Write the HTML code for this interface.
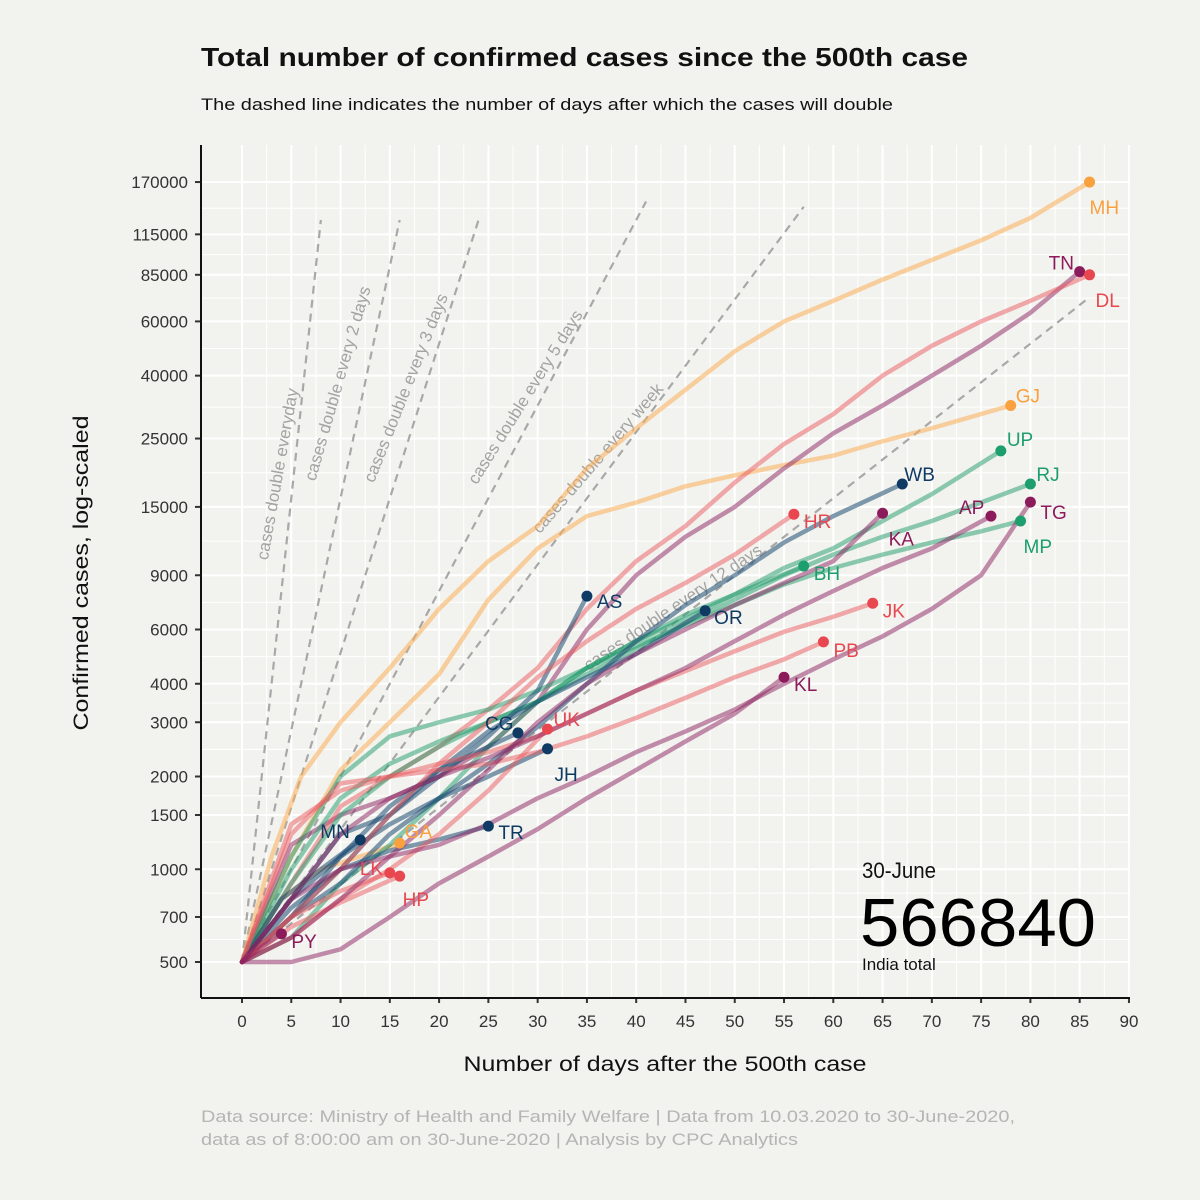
<!DOCTYPE html>
<html><head><meta charset="utf-8"><style>
html,body{margin:0;padding:0;background:#f2f2ee;}
svg{display:block;font-family:"Liberation Sans",Arial,sans-serif;}
</style></head><body>
<svg id="chart" width="1200" height="1200" viewBox="0 0 1200 1200">
<rect width="1200" height="1200" fill="#f2f2ee"/>
<text x="201" y="66" font-size="26" font-weight="bold" fill="#111" textLength="767" lengthAdjust="spacingAndGlyphs">Total number of confirmed cases since the 500th case</text>
<text x="201" y="110" font-size="17" fill="#111" textLength="692" lengthAdjust="spacingAndGlyphs">The dashed line indicates the number of days after which the cases will double</text>
<g id="grid"></g>
<g id="dbl"></g>
<g id="series"></g>
<g id="axes"></g>
<text x="88" y="573" transform="rotate(-90 88 573)" text-anchor="middle" font-size="21" fill="#111" textLength="315" lengthAdjust="spacingAndGlyphs">Confirmed cases, log-scaled</text>
<text x="665" y="1071" text-anchor="middle" font-size="21" fill="#111" textLength="403" lengthAdjust="spacingAndGlyphs">Number of days after the 500th case</text>
<text x="862" y="878" font-size="22" fill="#111" textLength="74" lengthAdjust="spacingAndGlyphs">30-June</text>
<text x="860" y="946" font-size="68" fill="#000" textLength="236" lengthAdjust="spacingAndGlyphs">566840</text>
<text x="862" y="970" font-size="17" fill="#111">India total</text>
<text x="201" y="1122" font-size="17" fill="#b5b5b5" textLength="814" lengthAdjust="spacingAndGlyphs">Data source: Ministry of Health and Family Welfare | Data from 10.03.2020 to 30-June-2020,</text>
<text x="201" y="1145" font-size="17" fill="#b5b5b5" textLength="597" lengthAdjust="spacingAndGlyphs">data as of 8:00:00 am on 30-June-2020 | Analysis by CPC Analytics</text>
</svg>
<script>
const xTicks=[0,5,10,15,20,25,30,35,40,45,50,55,60,65,70,75,80,85,90];
const yTicks=[500,700,1000,1500,2000,3000,4000,6000,9000,15000,25000,40000,60000,85000,115000,170000];
const doublingDays=[1,2,3,5,7,12];
const doublingEnd=[8,16,24,41,57,86];
const doublingLabels=["cases double everyday","cases double every 2 days","cases double every 3 days","cases double every 5 days","cases double every week","cases double every 12 days"];
const stateNames=["MH","GJ","GA","TN","DL","UP","RJ","MP","BH","WB","AS","OR","JH","CG","TR","MN","HR","JK","PB","UK","LK","HP","KA","AP","TG","KL","PY"];
const stateGroups=["o","o","o","p","r","g","g","g","g","n","n","n","n","n","n","n","r","r","r","r","r","r","p","p","p","p","p"];
const stateDays={
MH:[0,3,6,10,15,20,25,30,35,40,45,50,55,60,65,70,75,80,86],
GJ:[0,5,10,15,20,25,30,35,40,45,50,55,60,65,70,78],
GA:[0,4,8,12,16],
TN:[0,5,10,15,20,25,30,35,40,45,50,55,60,65,70,75,80,85],
DL:[0,5,10,15,20,25,30,35,40,45,50,55,60,65,70,75,80,86],
UP:[0,5,10,15,20,25,30,35,40,45,50,55,60,65,70,77],
RJ:[0,5,10,15,20,25,30,35,40,45,50,55,60,65,70,75,80],
MP:[0,5,10,15,20,25,30,35,40,45,50,55,60,65,70,75,79],
BH:[0,5,10,15,20,25,30,35,40,45,50,57],
WB:[0,5,10,15,20,25,30,35,40,45,50,55,60,67],
AS:[0,5,10,15,20,25,30,35],
OR:[0,5,10,15,20,25,30,35,40,47],
JH:[0,5,10,15,20,25,31],
CG:[0,5,10,15,20,25,28],
TR:[0,5,10,15,20,25],
MN:[0,4,8,12],
HR:[0,5,10,15,20,25,30,35,40,45,50,56],
JK:[0,5,10,15,20,25,30,35,40,45,50,55,60,64],
PB:[0,5,10,15,20,25,30,35,40,45,50,55,59],
UK:[0,5,10,15,20,25,31],
LK:[0,5,10,15],
HP:[0,5,10,16],
KA:[0,5,10,15,20,25,30,35,40,45,50,55,60,65],
AP:[0,5,10,15,20,25,30,35,40,45,50,55,60,65,70,76],
TG:[0,5,10,15,20,25,30,35,40,45,50,55,60,65,70,75,80],
KL:[0,5,10,15,20,25,30,35,40,45,50,55],
PY:[0,2,4]};
const stateCases={
MH:[500,1100,2000,3000,4500,7000,10000,13000,20000,27000,36000,48000,60000,70000,82000,95000,110000,130000,170000],
GJ:[500,1100,2100,3000,4300,7500,11000,14000,15500,17500,19000,20500,22000,24500,27000,32000],
GA:[500,800,1000,1100,1216],
TN:[500,1200,1500,1700,2000,2500,3500,6000,9000,12000,15000,20000,26000,32000,40000,50000,64000,87000],
DL:[500,900,1600,2000,2500,3300,4500,7000,10000,13000,18000,24000,30000,40000,50000,60000,70000,85000],
UP:[500,900,1500,2000,2500,3000,3500,4500,5500,6500,7800,9500,11000,13500,16500,22800],
RJ:[500,1000,1700,2200,2600,3000,3500,4300,5200,6300,7500,9000,10500,12000,13500,15500,17800],
MP:[500,1100,2000,2700,3000,3300,3800,4500,5300,6200,7200,8400,9500,10500,11500,12500,13500],
BH:[500,600,900,1200,1700,2500,3500,4500,5500,6700,7800,9640],
WB:[500,700,900,1300,1700,2200,2900,4000,5500,7200,9000,11500,14000,17800],
AS:[500,800,1300,1500,2000,2700,3800,7700],
OR:[500,700,1100,1600,2100,2800,3500,4200,5000,6900],
JH:[500,800,1100,1400,1700,2000,2460],
CG:[500,700,1000,1500,2100,2500,2770],
TR:[500,750,1000,1150,1250,1380],
MN:[500,800,1000,1245],
HR:[500,700,1000,1500,2200,3000,4200,5500,7000,8500,10500,14200],
JK:[500,1400,1800,2000,2200,2400,2700,3200,3800,4400,5100,5900,6600,7300],
PB:[500,1300,1900,2000,2100,2200,2400,2700,3100,3600,4200,4800,5470],
UK:[500,600,800,1000,1300,1800,2850],
LK:[500,700,850,973],
HP:[500,650,780,950],
KA:[500,600,800,1100,1500,2100,3000,4000,5000,6000,7200,8500,10000,14300],
AP:[500,800,1300,1700,2000,2300,2700,3200,3800,4500,5500,6700,8000,9500,11000,14000],
TG:[500,800,1000,1100,1200,1400,1700,2000,2400,2800,3300,4000,4800,5700,7000,9000,15550],
KL:[500,500,550,700,900,1100,1350,1700,2100,2600,3200,4200],
PY:[500,560,617]};
const labelOff={MH:[0,26],GJ:[5,-9],GA:[5,-11],TN:[-31,-8],DL:[6,26],UP:[6,-11],RJ:[6,-9],MP:[3,26],BH:[10,8],WB:[2,-9],AS:[10,6],OR:[9,7],JH:[7,26],CG:[-33,-9],TR:[10,7],MN:[-40,-8],HR:[10,8],JK:[10,8],PB:[10,9],UK:[6,-9],LK:[-30,-4],HP:[3,24],KA:[6,26],AP:[-32,-8],TG:[10,11],KL:[10,8],PY:[10,8]};
const lineCol={o:"#fcae5a",r:"#ea5a5f",p:"#8c2160",g:"#1f9c6c",n:"#1b4a73"};
const dotCol={o:"#f9a03f",r:"#e8474f",p:"#8c1b5c",g:"#1d9e6d",n:"#0f3a63"};
const lineOp={o:0.55,r:0.5,p:0.5,g:0.5,n:0.55};
const NS="http://www.w3.org/2000/svg";
const X0=242,PXD=9.855,Y0=962,PXDEC=308.1;
function xs(d){return X0+d*PXD;}
function ys(v){return Y0-PXDEC*Math.log10(v/500);}
function mk(tag,attrs,parent){const e=document.createElementNS(NS,tag);for(const k in attrs)e.setAttribute(k,attrs[k]);parent.appendChild(e);return e;}
const grid=document.getElementById('grid'),axes=document.getElementById('axes'),dbl=document.getElementById('dbl'),ser=document.getElementById('series');
const PL=201,PR=1130,PT=145,PB=998;
for(let i=0;i<xTicks.length-1;i++){const m=(xTicks[i]+xTicks[i+1])/2;const l=mk('line',{x1:xs(m),x2:xs(m),y1:PT,y2:PB,stroke:'#fff','stroke-width':1},grid);}
for(let i=0;i<yTicks.length-1;i++){const m=(ys(yTicks[i])+ys(yTicks[i+1]))/2;const l=mk('line',{x1:PL,x2:PR,y1:m,y2:m,stroke:'#fff','stroke-width':1},grid);}
xTicks.forEach(t=>{const x=xs(t);
 const l=mk('line',{x1:x,x2:x,y1:PT,y2:PB,stroke:'#fff','stroke-width':2},grid);
 const tk=mk('line',{x1:x,x2:x,y1:PB,y2:PB+5,stroke:'#333','stroke-width':2},axes);
 const tx=mk('text',{x:x,y:PB+29,'text-anchor':'middle','font-size':17,fill:'#333'},axes);tx.textContent=t;});
yTicks.forEach(t=>{const y=ys(t);
 const l=mk('line',{x1:PL,x2:PR,y1:y,y2:y,stroke:'#fff','stroke-width':2},grid);
 const tk=mk('line',{x1:PL-6,x2:PL,y1:y,y2:y,stroke:'#333','stroke-width':2},axes);
 const tx=mk('text',{x:PL-13,y:y+6,'text-anchor':'end','font-size':17,fill:'#333'},axes);tx.textContent=t;});
const ax1=mk('line',{x1:PL,x2:PL,y1:PT,y2:PB,stroke:'#111','stroke-width':2},axes);
const ax2=mk('line',{x1:PL,x2:PR,y1:PB,y2:PB,stroke:'#111','stroke-width':2},axes);
const lblPos=[[283,475],[343,385],[411,390],[530,400],[602,462],[676,612]];
doublingDays.forEach((k,i)=>{const pts=[];for(let d=0;d<=doublingEnd[i]+1e-9;d+=0.5){pts.push(xs(d)+','+ys(500*Math.pow(2,d/k)));}
 const p=mk('polyline',{points:pts.join(' '),fill:'none',stroke:'#a8a8a8','stroke-width':2.2,'stroke-dasharray':'8,6'},dbl);
 const ang=-Math.atan((PXDEC*Math.log10(2)/k)/PXD)*180/Math.PI;
 const [lx,ly]=lblPos[i];
 const t=mk('text',{x:lx,y:ly,'text-anchor':'middle','font-size':17,fill:'#a3a3a3',transform:`rotate(${ang+4} ${lx} ${ly})`},dbl);t.textContent=doublingLabels[i];});
stateNames.forEach((s,i)=>{const g=stateGroups[i];const ds=stateDays[s],vs=stateCases[s];
 const pts=ds.map((d,j)=>xs(d)+','+ys(vs[j])).join(' ');
 const p=mk('polyline',{points:pts,fill:'none',stroke:lineCol[g],'stroke-opacity':lineOp[g],'stroke-width':4.5,'stroke-linejoin':'round','stroke-linecap':'round'},ser);});
stateNames.forEach((s,i)=>{const g=stateGroups[i];const ds=stateDays[s],vs=stateCases[s];const n=ds.length-1;
 const cx=xs(ds[n]),cy=ys(vs[n]);
 const c=mk('circle',{cx:cx,cy:cy,r:5.5,fill:dotCol[g]},ser);
 const o=labelOff[s];
 const t=mk('text',{x:cx+o[0],y:cy+o[1]+6,'font-size':19,fill:dotCol[g]},ser);t.textContent=s;});
</script>
</body></html>
